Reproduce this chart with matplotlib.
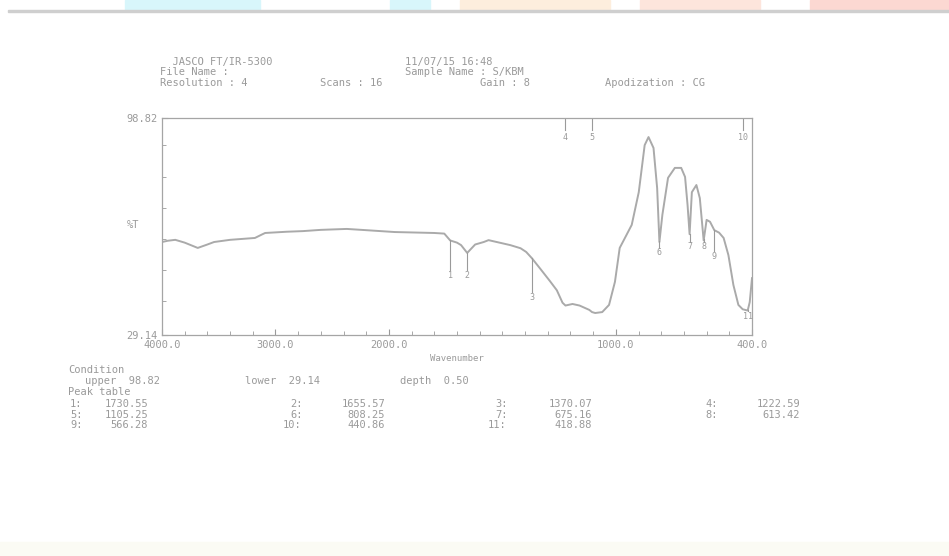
import matplotlib
matplotlib.use("Agg")
import matplotlib.pyplot as plt
from matplotlib.patches import Rectangle
import numpy as np

# spectrum (wavenumber cm-1, %T)
wavenumber = [4000, 3950, 3883, 3800, 3685, 3600, 3541, 3400, 3181, 3120, 3091,
              2900, 2758, 2600, 2371, 2200, 1974, 1800, 1756, 1730, 1700, 1682,
              1655, 1620, 1582, 1561, 1465, 1420, 1395, 1370, 1334, 1291, 1260,
              1235, 1222, 1191, 1160, 1117, 1105, 1091, 1060, 1030, 1004, 983,
              960, 930, 899, 873, 856, 834, 818, 808, 795, 770, 740, 712, 695,
              684, 675, 665, 645, 630, 613, 600, 585, 566, 545, 525, 504, 482,
              460, 441, 419, 410, 400]
transmittance = [59.0, 59.4, 59.7, 58.8, 57.1, 58.2, 59.0, 59.7, 60.3, 61.4, 61.9,
                 62.3, 62.5, 62.9, 63.2, 62.8, 62.2, 61.9, 61.7, 59.5, 58.8, 58.0,
                 55.5, 58.2, 59.0, 59.6, 58.0, 57.0, 55.8, 53.8, 50.5, 46.5, 43.5,
                 39.5, 38.6, 39.1, 38.6, 37.2, 36.5, 36.2, 36.5, 38.8, 46.2, 57.1,
                 60.3, 64.5, 75.0, 90.1, 92.7, 89.2, 76.3, 59.0, 67.7, 79.6, 82.8,
                 82.8, 79.9, 70.9, 61.5, 75.0, 77.3, 73.1, 59.5, 66.1, 65.5, 62.8,
                 62.0, 60.3, 54.8, 45.2, 38.8, 37.4, 37.0, 39.7, 47.4]

peak_no = [1, 2, 3, 4, 5, 6, 7, 8, 9, 10, 11]
peak_wn = [1730.55, 1655.57, 1370.07, 1222.59, 1105.25, 808.25, 675.16,
           613.42, 566.28, 440.86, 418.88]
# where each marker label sits (%T), markers hanging from the top frame
peak_label_t = [48.4, 48.4, 41.3, 92.7, 92.7, 55.5, 57.5, 57.5, 54.5, 92.7, 35.2]
from_top = [False, False, False, True, True, False, False, False, False, True, False]

upper = 98.82
lower = 29.14
depth = 0.50

header = ["  JASCO FT/IR-5300", "File Name :", "Resolution : 4"]
header_right = ["11/07/15 16:48", "Sample Name : S/KBM"]

gray = "#9a9a9a"
mono = ["DejaVu Sans Mono"]


def fwd(w):
	w = np.asarray(w, dtype=float)
	return np.where(w >= 2000, w / 2 + 1000, w)


def inv(u):
	u = np.asarray(u, dtype=float)
	return np.where(u >= 2000, (u - 1000) * 2, u)


W, H = 949, 556
fig = plt.figure(figsize=(9.49, 5.56), dpi=100)
fig.patch.set_facecolor("white")


def fx(x):
	return x / W


def fy(y):
	return 1 - y / H


# scanner page edge / coloured strip at the top
for x0, x1, c in [(125, 260, "#d8f6fb"), (390, 430, "#d8f6fb"), (460, 610, "#fdeedd"),
                  (640, 760, "#fde5dc"), (810, 949, "#fcd8d2")]:
	fig.patches.append(Rectangle((fx(x0), fy(10)), fx(x1 - x0), 10 / H,
	                             transform=fig.transFigure, color=c, zorder=0))
fig.patches.append(Rectangle((fx(8), fy(12)), fx(941), 2 / H, transform=fig.transFigure,
                             color="#cfcfcf", zorder=1))
fig.patches.append(Rectangle((0, 0), 1, 14 / H, transform=fig.transFigure,
                             color="#fbfbf4", zorder=0))

ax = fig.add_axes([fx(162), fy(335), fx(590), 217 / H])
ax.set_xscale("function", functions=(fwd, inv))
ax.plot(wavenumber, transmittance, color="#aaaaaa", lw=1.4)
ax.set_xlim(4000, 400)
ax.set_ylim(lower, upper)

# peak markers
for n, w, lt, top in zip(peak_no, peak_wn, peak_label_t, from_top):
	if top:
		ax.plot([w, w], [upper, lt + 2.2], color=gray, lw=0.8)
	else:
		t0 = np.interp(w, wavenumber[::-1], transmittance[::-1])
		ax.plot([w, w], [t0, lt + 1.5], color=gray, lw=0.8)
	ax.text(w, lt, str(n), color=gray, fontsize=6, family=mono, ha="center", va="center")

ax.set_xticks([4000, 3000, 2000, 1000, 400])
ax.set_xticklabels(["4000.0", "3000.0", "2000.0", "1000.0", "400.0"])
ax.set_xticks(list(range(3800, 2000, -200)) + list(range(1900, 400, -100)), minor=True)
ax.set_yticks([lower, upper])
ax.set_yticklabels(["%.2f" % lower, "%.2f" % upper])
ax.set_yticks([40, 50, 60, 70, 80, 90], minor=True)
ax.tick_params(which="both", direction="in", colors=gray, labelsize=7.5, length=4)
ax.tick_params(which="minor", length=3)
for lab in ax.get_xticklabels() + ax.get_yticklabels():
	lab.set_family(mono)
for s in ax.spines.values():
	s.set_color("#a5a5a5")
	s.set_linewidth(0.9)
ax.set_xlabel("Wavenumber", color=gray, fontsize=6.5, family=mono, labelpad=3)
fig.text(fx(133), fy(225), "%T", color=gray, fontsize=7.5, family=mono, ha="center", va="center")

# header
tk = dict(color=gray, fontsize=7.5, family=mono, va="center")
fig.text(fx(160), fy(62), header[0], **tk)
fig.text(fx(160), fy(72), header[1], **tk)
fig.text(fx(160), fy(83), header[2], **tk)
fig.text(fx(405), fy(62), header_right[0], **tk)
fig.text(fx(405), fy(72), header_right[1], **tk)
fig.text(fx(320), fy(83), "Scans : 16", **tk)
fig.text(fx(480), fy(83), "Gain : 8", **tk)
fig.text(fx(605), fy(83), "Apodization : CG", **tk)

# condition and peak table
fig.text(fx(68), fy(370), "Condition", **tk)
fig.text(fx(85), fy(381), "upper  %.2f" % upper, **tk)
fig.text(fx(245), fy(381), "lower  %.2f" % lower, **tk)
fig.text(fx(400), fy(381), "depth  %.2f" % depth, **tk)
fig.text(fx(68), fy(392), "Peak table", **tk)
col_lab = [70, 290, 495, 705]
col_num = [148, 385, 592, 800]
for i, (n, w) in enumerate(zip(peak_no, peak_wn)):
	r, c = divmod(i, 4)
	y = fy(404 + r * 10.5)
	fig.text(fx(col_lab[c] - (7 if n >= 10 else 0)), y, "%d:" % n, **tk)
	fig.text(fx(col_num[c]), y, "%.2f" % w, ha="right", color=gray, fontsize=7.5,
	         family=mono, va="center")

fig.savefig("out.png", dpi=100)
